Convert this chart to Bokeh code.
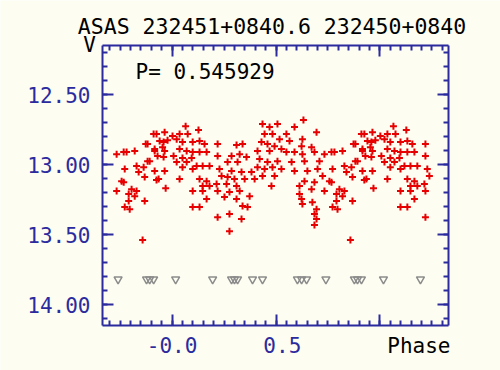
from bokeh.plotting import figure
from bokeh.models import Range1d, LinearAxis, FixedTicker, Label
from bokeh.embed import file_html
from bokeh.resources import INLINE

# ---- data (base phase in [0,1), V magnitude) ----
phase = [
    0.002, 0.036, 0.065, 0.075, 0.127, 0.022, 0.050, 0.099, 0.132, 0.156,
    0.036, 0.070, 0.099, 0.132, 0.166, 0.007, 0.050, 0.094, 0.022, 0.070,
    0.118, 0.147, 0.180, 0.050, 0.099, 0.036, 0.132, 0.166, 0.147, 0.180,
    0.099, 0.147, 0.166, 0.099, 0.132,
    0.435, 0.507, 0.469, 0.589, 0.632, 0.695, 0.445, 0.483, 0.550, 0.517,
    0.565, 0.627, 0.430, 0.459, 0.493, 0.526, 0.623, 0.671, 0.219, 0.310,
    0.339, 0.411, 0.469, 0.550, 0.589, 0.627, 0.685, 0.733, 0.767, 0.219,
    0.286, 0.325, 0.358, 0.421, 0.459, 0.507, 0.575, 0.637, 0.709, 0.267,
    0.315, 0.411, 0.445, 0.483, 0.526, 0.589, 0.651, 0.700, 0.228, 0.286,
    0.334, 0.382, 0.435, 0.493, 0.724, 0.238, 0.267, 0.300, 0.349, 0.397,
    0.637, 0.685, 0.757, 0.214, 0.262, 0.310, 0.478, 0.613, 0.671, 0.733,
    0.219, 0.276, 0.325, 0.373, 0.613, 0.252, 0.310, 0.623, 0.627, 0.675,
    0.339, 0.363, 0.695, 0.219, 0.276, 0.334, 0.685, 0.695, 0.685, 0.276,
    0.925, 0.959, 0.882, 0.916, 0.964, 0.781, 0.820, 0.892, 0.959, 0.829,
    0.863, 0.916, 0.964, 0.772, 0.839, 0.868, 0.935, 0.767, 0.805, 0.829,
    0.791, 0.820, 0.868, 0.791, 0.772, 0.796, 0.858,
    0.911, 0.964, 0.940, 0.978, 0.916, 0.954, 0.873, 0.930, 0.882, 0.925,
    0.969,
]
vmag = [
    12.797, 12.783, 12.726, 12.783, 12.754, 12.819, 12.840, 12.840, 12.833, 12.854,
    12.890, 12.904, 12.911, 12.911, 12.911, 12.940, 12.954, 12.954, 12.983, 12.983,
    13.011, 13.011, 13.011, 13.019, 13.033, 13.104, 13.104, 13.119, 13.154, 13.154,
    13.190, 13.190, 13.247, 13.304, 13.304,
    12.711, 12.711, 12.733, 12.733, 12.683, 12.769, 12.783, 12.783, 12.783, 12.819,
    12.833, 12.819, 12.840, 12.854, 12.869, 12.890, 12.869, 12.876, 12.854, 12.861,
    12.854, 12.904, 12.904, 12.911, 12.911, 12.926, 12.911, 12.926, 12.911, 12.940,
    12.940, 12.926, 12.947, 12.961, 12.983, 12.976, 12.983, 12.976, 12.976, 12.983,
    12.983, 13.019, 13.033, 13.019, 13.033, 13.047, 13.047, 13.033, 13.033, 13.047,
    13.054, 13.054, 13.083, 13.083, 13.083, 13.083, 13.090, 13.104, 13.104, 13.104,
    13.119, 13.126, 13.119, 13.140, 13.140, 13.154, 13.154, 13.154, 13.176, 13.190,
    13.190, 13.197, 13.190, 13.226, 13.211, 13.233, 13.247, 13.247, 13.283, 13.269,
    13.297, 13.304, 13.319, 13.376, 13.354, 13.390, 13.354, 13.390, 13.433, 13.476,
    12.783, 12.840, 12.854, 12.904, 12.904, 12.911, 12.904, 12.976, 12.947, 13.011,
    13.019, 13.047, 13.047, 13.033, 13.054, 13.090, 13.104, 13.126, 13.176, 13.190,
    13.211, 13.226, 13.261, 13.261, 13.304, 13.319, 13.540,
    12.783, 12.769, 12.833, 12.826, 12.890, 12.876, 12.854, 12.940, 12.976, 13.111,
    13.169,
]
# upper limits (gray "v")
lim_phase = [0.017, 0.195, 0.286, 0.300, 0.315, 0.387, 0.435,
             0.603, 0.623, 0.647, 0.740, 0.877, 0.892, 0.911]
lim_mag = [13.82, 13.82, 13.82, 13.82, 13.82, 13.82, 13.82,
           13.82, 13.82, 13.82, 13.82, 13.82, 13.82, 13.82]

title_text = "ASAS 232451+0840.6 232450+0840"
period_text = "P= 0.545929"
y_label_text = "V"
x_label_text = "Phase"
x_major = [0.0, 0.5, 1.0]
x_tick_labels = {0: "-0.0", 0.5: "\u00a00.5", 1: ""}
y_major = [12.5, 13.0, 13.5, 14.0]
y_tick_labels = {12.5: "12.50", 13: "13.00", 13.5: "13.50", 14: "14.00"}

PH_LO, PH_HI = -0.27, 1.25


def fold(ph, mg):
    xs, ys = [], []
    for pv, mv in zip(ph, mg):
        for k in (-1, 0, 1):
            q = pv + k
            if PH_LO <= q <= PH_HI:
                xs.append(q)
                ys.append(mv)
    return xs, ys


px, py = fold(phase, vmag)
lx, ly = fold(lim_phase, lim_mag)

# ---- layout: plotting box inside a 500x370 canvas ----
W, H = 500, 370
BOX_L, BOX_R, BOX_T, BOX_B = 102, 448, 45, 325       # pixels
X0, X1 = -0.335, 1.33                                # phase at box edges
Y0, Y1 = 12.15, 14.15                                # mag at box top/bottom
ux = (X1 - X0) / (BOX_R - BOX_L)
uy = (Y1 - Y0) / (BOX_B - BOX_T)


def dx(pxl):
    return X0 + (pxl - BOX_L) * ux


def dy(pxl):
    return Y0 + (pxl - BOX_T) * uy


BG = "#fdfdf2"
BLUE = "#2b2b9e"
FONT = "DejaVu Sans Mono"

p = figure(width=W, height=H, output_backend="svg", toolbar_location=None,
           x_range=Range1d(dx(0), dx(W)), y_range=Range1d(dy(H), dy(0)),
           min_border=0, min_border_left=0, min_border_right=0,
           min_border_top=0, min_border_bottom=0,
           background_fill_color=BG, border_fill_color=BG,
           x_axis_location=None, y_axis_location=None)
p.xgrid.visible = False
p.ygrid.visible = False
p.outline_line_color = None

x_minor = [round(-0.30 + 0.05 * i, 2) for i in range(33)]
y_minor = [round(12.2 + 0.1 * i, 1) for i in range(20)]
xt = FixedTicker(ticks=x_major, minor_ticks=x_minor)
yt = FixedTicker(ticks=y_major, minor_ticks=y_minor)


def make_axis(ticker, bounds, loc, labels=None, standoff=8):
    ax = LinearAxis(ticker=ticker, bounds=bounds, fixed_location=loc)
    ax.axis_line_color = BLUE
    ax.axis_line_width = 2
    ax.major_tick_line_color = BLUE
    ax.minor_tick_line_color = BLUE
    ax.major_tick_line_width = 2
    ax.minor_tick_line_width = 2
    ax.major_tick_in = 11
    ax.major_tick_out = 0
    ax.minor_tick_in = 5
    ax.minor_tick_out = 0
    ax.major_label_text_font = FONT
    ax.major_label_text_font_size = "21px"
    ax.major_label_standoff = standoff
    if labels is not None:
        ax.major_label_overrides = labels
        ax.major_label_text_color = BLUE
    else:
        ax.major_label_text_color = None
    return ax


p.add_layout(make_axis(xt, (X0, X1), Y1, x_tick_labels, 8), "below")
p.add_layout(make_axis(yt, (Y0, Y1), X0, y_tick_labels, 12), "left")
p.add_layout(make_axis(xt, (X0, X1), Y0), "above")
p.add_layout(make_axis(yt, (Y0, Y1), X1), "right")

p.scatter(lx, ly, marker="inverted_triangle", size=8, line_color="#8c8c8c",
          fill_color=None, line_width=1.5)
p.scatter(px, py, marker="cross", size=7, line_color="#e60000", line_width=2)


def label(x, y, text, align, size="21px"):
    p.add_layout(Label(x=x, y=y, text=text, text_font=FONT,
                       text_font_size=size, text_color="black",
                       text_align=align, text_baseline="alphabetic"))


label(dx(271.5), dy(26), title_text, "center", "21.5px")
label(dx(135), dy(71), period_text, "left")
label(dx(89), dy(44), y_label_text, "center")
label(dx(450), dy(345), x_label_text, "right")

open("out.html", "w").write(file_html(p, INLINE))
